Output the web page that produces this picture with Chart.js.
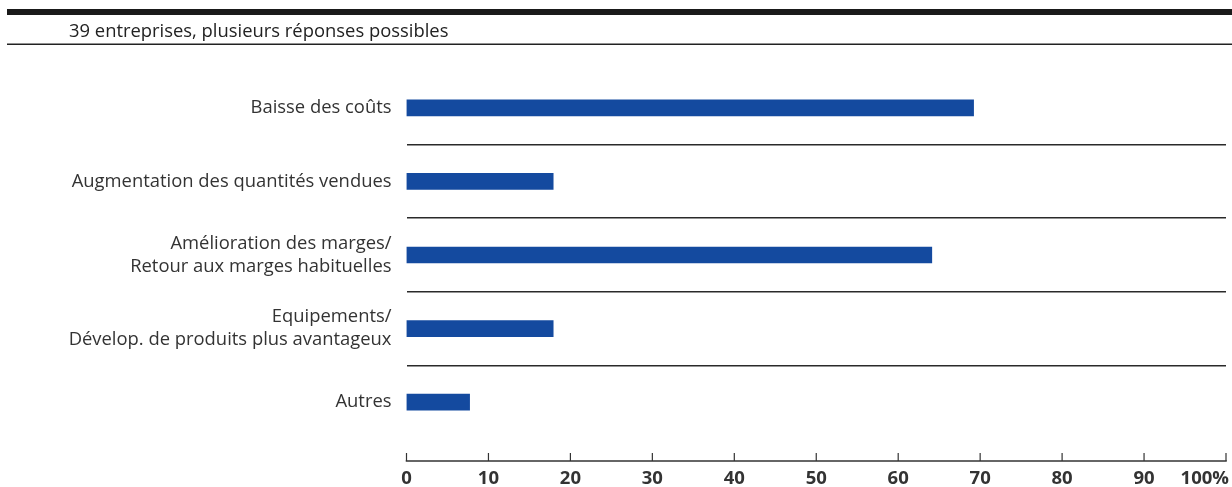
<!DOCTYPE html>
<html lang="fr">
<head>
<meta charset="utf-8">
<title>Effets attendus</title>
<script src="https://cdn.jsdelivr.net/npm/chart.js@4.4.1/dist/chart.umd.min.js"></script>
<style>
  html, body { margin: 0; padding: 0; background: #ffffff; }
  #wrap { width: 1232px; height: 487px; position: relative; }
</style>
</head>
<body>
<div id="wrap"><canvas id="chart"></canvas></div>
<script>
// Réponses (en % des 39 entreprises)
const categories = [
  'Baisse des coûts',
  'Augmentation des quantités vendues',
  ['Amélioration des marges/', 'Retour aux marges habituelles'],
  ['Equipements/', 'Dévelop. de produits plus avantageux'],
  'Autres'
];
const shares = [69.2, 17.9, 64.1, 17.9, 7.7];
const xTickValues = [0, 10, 20, 30, 40, 50, 60, 70, 80, 90, 100];
const xTickLabels = ['0', '10', '20', '30', '40', '50', '60', '70', '80', '90', '100%'];
const subtitle = '39 entreprises, plusieurs réponses possibles';

const FONT = '"Open Sans", "DejaVu Sans", sans-serif';
const INK = '#333333';

// Bandeau du haut, axe horizontal et ses graduations
const framePlugin = {
  id: 'frame',
  beforeDraw(chart) {
    const ctx = chart.ctx;
    const w = chart.width;
    ctx.save();
    ctx.fillStyle = '#1a1a1a';
    ctx.fillRect(7, 9, w - 7, 6);
    ctx.fillStyle = '#222222';
    ctx.fillRect(7, 43.5, w - 7, 1.5);
    ctx.font = '18.4px ' + FONT;
    ctx.fillStyle = '#222222';
    ctx.textBaseline = 'alphabetic';
    ctx.textAlign = 'left';
    ctx.fillText(subtitle, 69, 37);
    ctx.restore();
  },
  afterDraw(chart) {
    const ctx = chart.ctx;
    const x = chart.scales.x;
    const axisY = chart.chartArea.bottom + 22;
    ctx.save();
    ctx.strokeStyle = '#333333';
    ctx.lineWidth = 1.5;
    ctx.beginPath();
    ctx.moveTo(x.getPixelForValue(0) - 0.75, axisY);
    ctx.lineTo(x.getPixelForValue(100) + 0.75, axisY);
    ctx.stroke();
    ctx.lineWidth = 1.2;
    ctx.font = 'bold 18.5px ' + FONT;
    ctx.fillStyle = INK;
    ctx.textBaseline = 'middle';
    xTickValues.forEach((v, i) => {
      const px = x.getPixelForValue(v);
      ctx.beginPath();
      ctx.moveTo(px, axisY);
      ctx.lineTo(px, axisY - 8);
      ctx.stroke();
      const last = i === xTickValues.length - 1;
      ctx.textAlign = last ? 'right' : 'center';
      ctx.fillText(xTickLabels[i], last ? px + 3 : px, axisY + 18);
    });
    ctx.restore();
  }
};

new Chart(document.getElementById('chart'), {
  type: 'bar',
  data: {
    labels: categories,
    datasets: [{
      data: shares,
      backgroundColor: '#144a9f',
      borderWidth: 0,
      barThickness: 16
    }]
  },
  options: {
    indexAxis: 'y',
    responsive: true,
    maintainAspectRatio: false,
    animation: false,
    layout: { padding: { top: 71, right: 6, left: 0, bottom: 0 } },
    plugins: {
      legend: { display: false },
      tooltip: { enabled: false },
      title: { display: false }
    },
    scales: {
      x: {
        min: 0,
        max: 100,
        border: { display: false },
        grid: { display: false },
        ticks: { display: false, stepSize: 10 },
        afterFit(scale) { scale.height = 48; }
      },
      y: {
        border: { display: false },
        grid: {
          offset: true,
          drawTicks: false,
          lineWidth: 1.5,
          // only the separators between categories, not the outer edges
          color: (c) => (c.index === undefined || c.index === 0) ? 'rgba(0,0,0,0)' : '#2a2a2a'
        },
        ticks: {
          padding: 15,
          color: INK,
          font: { family: FONT, size: 18.4, lineHeight: 1.25 }
        },
        afterFit(scale) { scale.width = 406.5; }
      }
    }
  },
  plugins: [framePlugin]
});
</script>
</body>
</html>
